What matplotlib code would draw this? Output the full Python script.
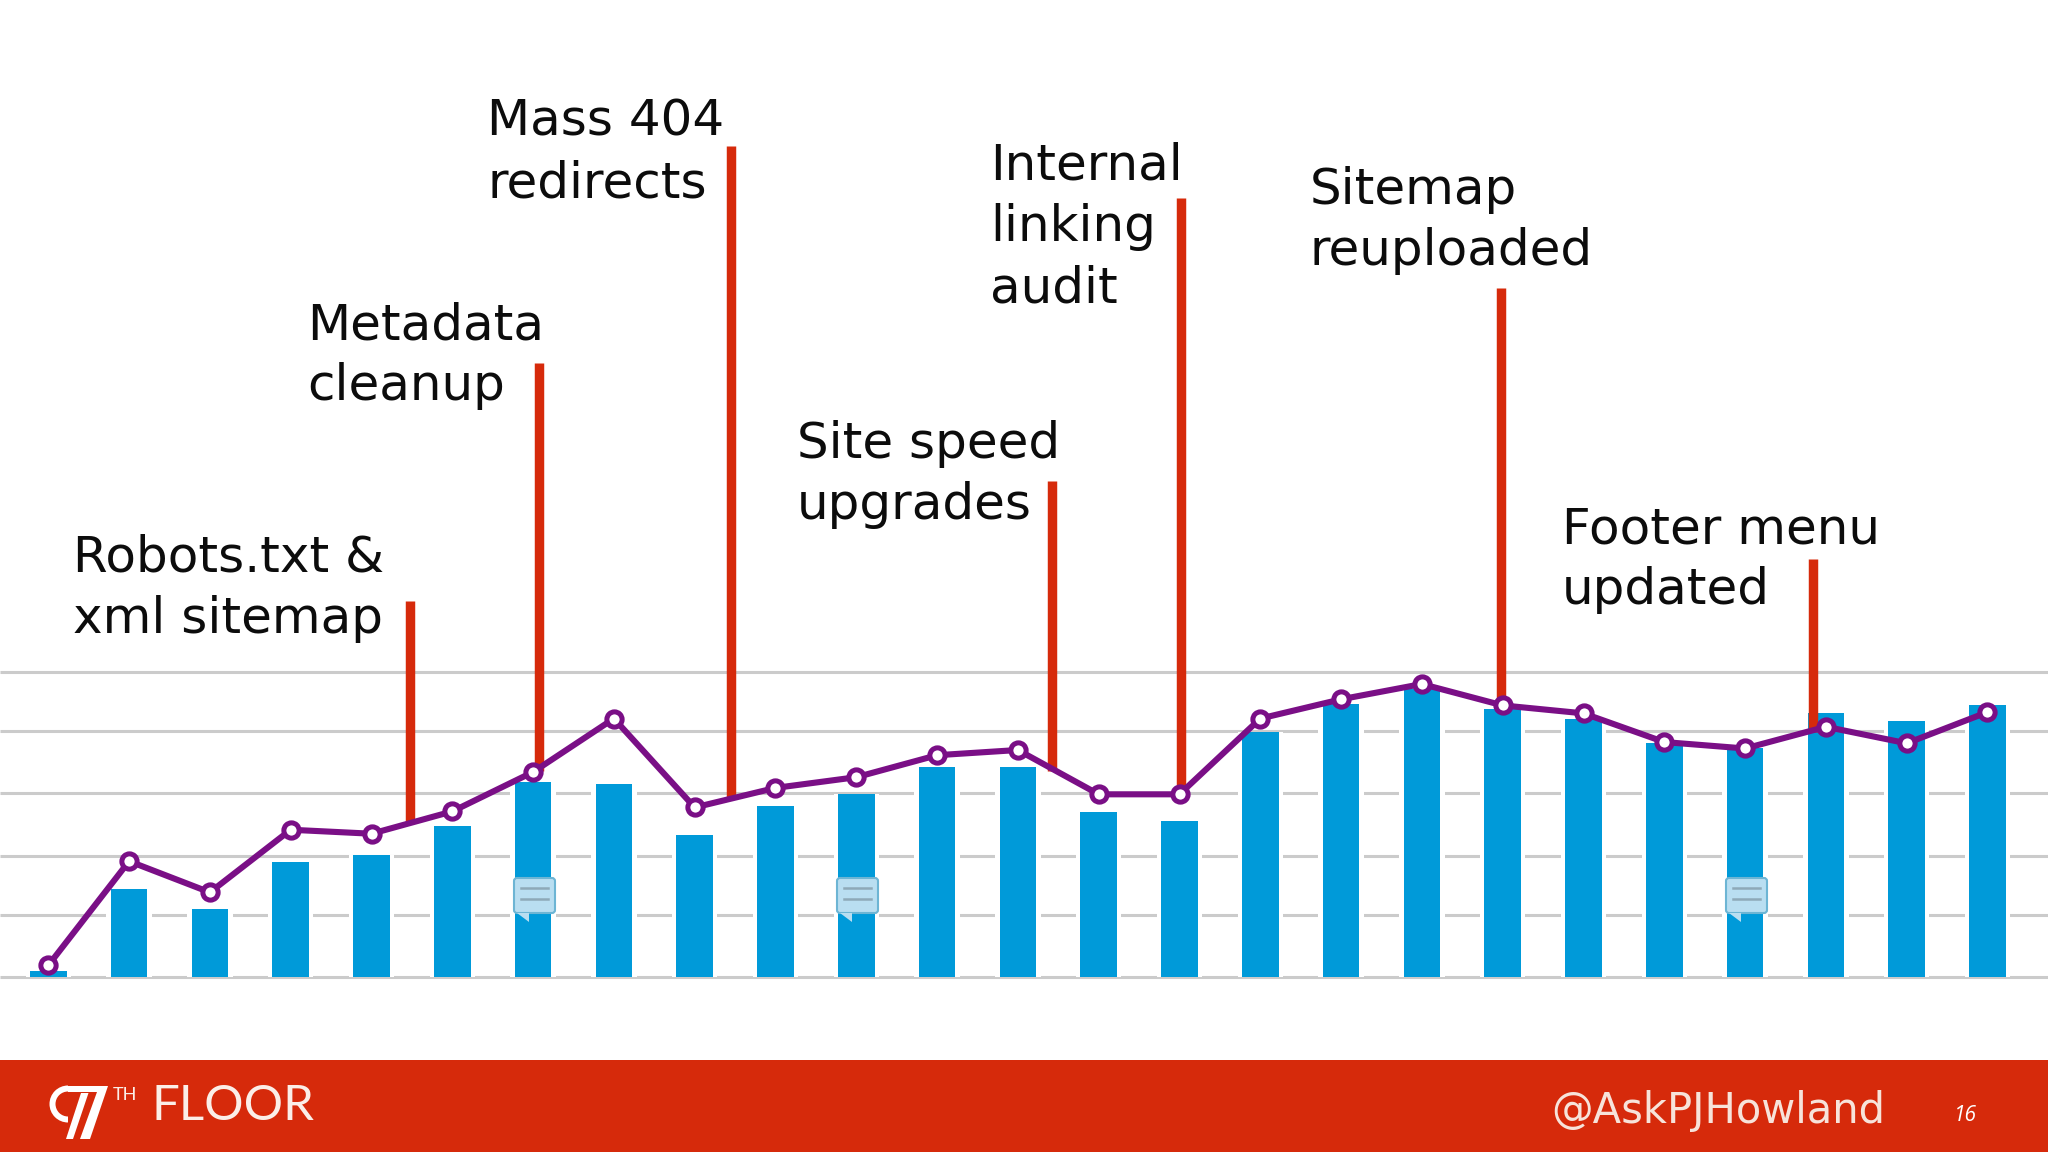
import matplotlib
matplotlib.use('Agg')
import matplotlib.pyplot as plt
from matplotlib.patches import Rectangle, Polygon, Wedge, FancyBboxPatch
import numpy as np

# monthly values (one gridline = about 20 units)
bars = [2, 29, 22.5, 37.6, 40, 49.6, 64, 63.3, 46.6, 56, 60, 69, 69, 54, 51.3,
        80.4, 89.4, 94.5, 87.7, 84.7, 76.6, 74.9, 86.4, 83.8, 89]
line = [3.9, 38, 27.8, 48.3, 47, 54.3, 67.2, 84.7, 55.6, 62, 65.5, 72.7, 74.4,
        59.9, 59.9, 84.7, 91, 96, 89, 86.4, 77, 74.9, 82, 76.6, 86.8]
grid_vals = [0, 20.4, 39.8, 60.2, 80.6, 100]

# red event markers
event_x = [4.475, 6.07, 8.45, 12.42, 14.02, 17.98, 21.84]
event_top = [123.2, 201, 272, 162.6, 255, 225.5, 136.9]
event_bottom = [50.5, 67.6, 59, 67.6, 61.2, 89, 80.4]

labels = [
    (['Robots.txt &', 'xml sitemap'], 73, 572),
    (['Metadata', 'cleanup'], 307, 339),
    (['Mass 404', 'redirects'], 487, 136),
    (['Site speed', 'upgrades'], 797, 458),
    (['Internal', 'linking', 'audit'], 990, 180),
    (['Sitemap', 'reuploaded'], 1310, 204),
    (['Footer menu', 'updated'], 1562, 543),
]
icon_x = [513, 836, 1725]

RED = '#d62a0b'
BLUE = '#009ad9'
PURPLE = '#7a0f86'
FONT = 'DejaVu Sans'

fig = plt.figure(figsize=(20.48, 11.52), dpi=100, facecolor='white')
ax = fig.add_axes([0, 0, 1, 1])
ax.set_xlim(-48.3 / 80.8, (2048 - 48.3) / 80.8)
ax.set_ylim(-174.7 / 3.055, (1152 - 174.7) / 3.055)
ax.axis('off')

x = np.arange(len(bars))
ax.hlines(grid_vals, ax.get_xlim()[0], ax.get_xlim()[1], color='#cbcbcb', lw=2.2, zorder=1)
# white halo beside the bars breaks the gridlines
ax.bar(x, bars, width=0.56, color='white', zorder=2)
ax.bar(x, bars, width=0.455, color=BLUE, zorder=3)
ax.vlines(event_x, event_bottom, event_top, color=RED, lw=6.8, zorder=4)
ax.plot(x, line, color=PURPLE, lw=4.4, marker='o', ms=11, mfc='white', mec=PURPLE, mew=3.6, zorder=5)

# pixel overlay for text, footer and icons
deco = fig.add_axes([0, 0, 1, 1], facecolor='none')
deco.set_xlim(0, 2048)
deco.set_ylim(1152, 0)
deco.axis('off')

for lines, lx, ly in labels:
    for i, s in enumerate(lines):
        deco.text(lx, ly + i * 61.4, s, fontsize=36, family=FONT, color='#0c0c0c', va='baseline', ha='left')

for ix in icon_x:
    deco.add_patch(FancyBboxPatch((ix + 1, 878), 41, 35, boxstyle='round,pad=0,rounding_size=3',
                                  fc='#b9def1', ec='#6db5d4', lw=1.5, zorder=6))
    deco.add_patch(Polygon([(ix + 4, 913), (ix + 16, 913), (ix + 16, 922)], fc='#b9def1', ec='none', zorder=6))
    deco.plot([ix + 8, ix + 35], [888, 888], color='#8ea9b8', lw=1.8, zorder=7)
    deco.plot([ix + 8, ix + 35], [899, 899], color='#8ea9b8', lw=1.8, zorder=7)

# footer
deco.add_patch(Rectangle((0, 1060), 2048, 92, fc=RED, ec='none', zorder=8))
deco.add_patch(Wedge((68, 1104), 18.5, 90, 270, width=6, fc='white', ec='none', zorder=9))
deco.add_patch(Polygon([(68, 1086), (108, 1086), (90, 1139), (80, 1139), (97, 1092), (68, 1092)],
                       fc='white', ec='none', zorder=9))
deco.add_patch(Polygon([(81, 1093), (88.5, 1093), (73, 1139), (66, 1139)], fc='white', ec='none', zorder=9))
deco.text(113, 1100, 'TH', fontsize=13, family='Lato', color='#fbeee8', zorder=9)
deco.text(151, 1120, 'FLOOR', fontsize=35.5, family='Lato', color='#fbeee8', zorder=9)
deco.text(1551, 1123, '@AskPJHowland', fontsize=30, family=FONT, color='#f7e3da', zorder=9)
deco.text(1954, 1121, '16', fontsize=15, family='Open Sans', style='italic', color='white', zorder=9)

fig.savefig('out.png', dpi=100)
